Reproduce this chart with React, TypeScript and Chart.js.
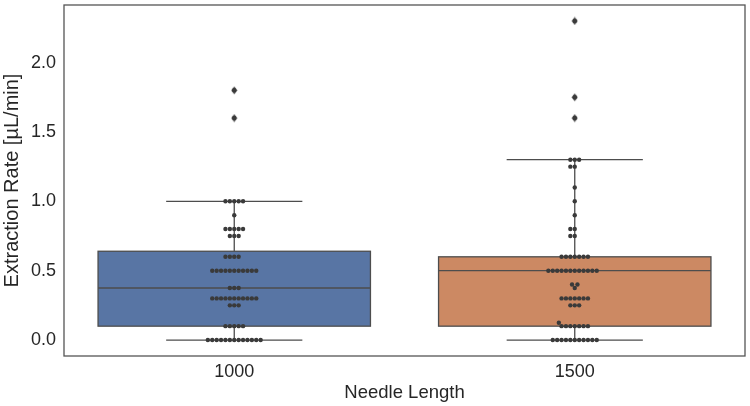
import React, { useEffect, useRef } from "react";
import { Chart, registerables } from "chart.js";

Chart.register(...registerables);

const categories = ["1000", "1500"];
const yTicks = [0, 0.5, 1.0, 1.5, 2.0];

const needle1000 = [
  0, 0, 0, 0, 0, 0, 0, 0, 0, 0, 0, 0, 0,
  0.1, 0.1, 0.1, 0.1, 0.1,
  0.25, 0.25, 0.25,
  0.3, 0.3, 0.3, 0.3, 0.3, 0.3, 0.3, 0.3, 0.3, 0.3, 0.3,
  0.375, 0.375, 0.375,
  0.5, 0.5, 0.5, 0.5, 0.5, 0.5, 0.5, 0.5, 0.5, 0.5, 0.5,
  0.6, 0.6, 0.6, 0.6,
  0.75, 0.75, 0.75,
  0.8, 0.8, 0.8, 0.8, 0.8,
  0.9,
  1.0, 1.0, 1.0, 1.0, 1.0,
  1.6, 1.8,
];

const needle1500 = [
  0, 0, 0, 0, 0, 0, 0, 0, 0, 0, 0,
  0.1, 0.1, 0.1, 0.1, 0.1, 0.1, 0.1,
  0.125,
  0.25, 0.25, 0.25,
  0.3, 0.3, 0.3, 0.3, 0.3, 0.3, 0.3,
  0.375,
  0.4, 0.4,
  0.5, 0.5, 0.5, 0.5, 0.5, 0.5, 0.5, 0.5, 0.5, 0.5, 0.5, 0.5,
  0.6, 0.6, 0.6, 0.6, 0.6, 0.6, 0.6,
  0.75, 0.75,
  0.8, 0.8,
  0.9, 1.0, 1.1,
  1.25, 1.25,
  1.3, 1.3, 1.3,
  1.6, 1.75, 2.3,
];

const boxQ1 = [0.1, 0.1];
const boxMedian = [0.375, 0.5];
const boxQ3 = [0.64, 0.6];
const whiskerLow = [0, 0];
const whiskerHigh = [1.0, 1.3];
const boxColors = ["#5875A4", "#CC8963"];

const LINE = "#4d4d4d";
const DOT = "#3a3a3a";
const TEXT = "#262626";
const FONT = "'Liberation Sans', Arial, sans-serif";

function swarmOffsets(vals: number[], d: number, pxY: number): number[] {
  const order = vals.map((_, i) => i).sort((a, b) => vals[a] - vals[b]);
  const placed: { x: number; y: number }[] = [];
  const out: number[] = new Array(vals.length).fill(0);
  for (const i of order) {
    const y = vals[i] * pxY;
    const nb = placed.filter((p) => Math.abs(p.y - y) < d - 1e-6);
    const cands = [0];
    for (const p of nb) {
      const dx = Math.sqrt(Math.max(0, d * d - (p.y - y) ** 2));
      cands.push(p.x - dx, p.x + dx);
    }
    cands.sort(
      (a, b) => Math.round(Math.abs(a) * 1000) - Math.round(Math.abs(b) * 1000) || a - b
    );
    let chosen = 0;
    for (const c of cands) {
      if (nb.every((p) => Math.hypot(p.x - c, p.y - y) >= d - 1e-6)) {
        chosen = c;
        break;
      }
    }
    placed.push({ x: chosen, y });
    out[i] = chosen;
  }
  return out;
}

export default function App() {
  const ref = useRef<HTMLCanvasElement | null>(null);

  useEffect(() => {
    document.body.style.margin = "0";
    const canvas = ref.current!;
    const groups = [needle1000, needle1500];

    const diamond = document.createElement("canvas");
    diamond.width = 7;
    diamond.height = 9;
    const dctx = diamond.getContext("2d")!;
    dctx.fillStyle = LINE;
    dctx.beginPath();
    dctx.moveTo(3.5, 0.5);
    dctx.lineTo(6.5, 4.5);
    dctx.lineTo(3.5, 8.5);
    dctx.lineTo(0.5, 4.5);
    dctx.closePath();
    dctx.fill();

    const flierData = groups.flatMap((vals, gi) =>
      vals
        .filter((v) => v > whiskerHigh[gi] || v < whiskerLow[gi])
        .map((v) => ({ x: gi, y: v }))
    );
    const swarmData = groups.flatMap((vals, gi) => vals.map((v) => ({ x: gi, y: v })));

    const boxPlugin = {
      id: "boxes",
      beforeDatasetsDraw(chart: any) {
        const ctx = chart.ctx;
        const xs = chart.scales.x;
        const ys = chart.scales.y;
        ctx.save();
        categories.forEach((_, gi) => {
          const xl = xs.getPixelForValue(gi - 0.4);
          const xr = xs.getPixelForValue(gi + 0.4);
          const xc = xs.getPixelForValue(gi);
          const cl = xs.getPixelForValue(gi - 0.2);
          const cr = xs.getPixelForValue(gi + 0.2);
          const yq1 = ys.getPixelForValue(boxQ1[gi]);
          const yq3 = ys.getPixelForValue(boxQ3[gi]);
          const ym = ys.getPixelForValue(boxMedian[gi]);
          const ylo = ys.getPixelForValue(whiskerLow[gi]);
          const yhi = ys.getPixelForValue(whiskerHigh[gi]);
          ctx.lineWidth = 1.3;
          ctx.strokeStyle = LINE;
          ctx.beginPath();
          ctx.moveTo(xc, yq1);
          ctx.lineTo(xc, ylo);
          ctx.moveTo(xc, yq3);
          ctx.lineTo(xc, yhi);
          ctx.moveTo(cl, ylo);
          ctx.lineTo(cr, ylo);
          ctx.moveTo(cl, yhi);
          ctx.lineTo(cr, yhi);
          ctx.stroke();
          ctx.fillStyle = boxColors[gi];
          ctx.fillRect(xl, yq3, xr - xl, yq1 - yq3);
          ctx.strokeRect(xl, yq3, xr - xl, yq1 - yq3);
          ctx.beginPath();
          ctx.moveTo(xl, ym);
          ctx.lineTo(xr, ym);
          ctx.stroke();
        });
        ctx.restore();
      },
      afterDraw(chart: any) {
        const { left, top, right, bottom } = chart.chartArea;
        const ctx = chart.ctx;
        ctx.save();
        ctx.strokeStyle = "#555555";
        ctx.lineWidth = 1.3;
        ctx.strokeRect(left, top, right - left, bottom - top);
        ctx.restore();
      },
    };

    const chart = new Chart(canvas, {
      type: "scatter",
      data: {
        datasets: [
          {
            data: flierData,
            pointStyle: diamond as any,
            pointRadius: 4,
            order: 2,
          },
          {
            data: swarmData,
            pointStyle: "circle",
            pointRadius: 2.2,
            pointBorderWidth: 0,
            backgroundColor: DOT,
            borderColor: DOT,
            order: 1,
          },
        ],
      },
      options: {
        responsive: false,
        animation: false,
        layout: { padding: { top: 1, right: 5, left: 0, bottom: 0 } },
        plugins: { legend: { display: false }, tooltip: { enabled: false } },
        scales: {
          x: {
            type: "linear",
            min: -0.5,
            max: 1.5,
            grid: { display: false, drawTicks: false, tickLength: 0 },
            border: { display: false },
            afterBuildTicks: (s: any) => {
              s.ticks = categories.map((_, i) => ({ value: i }));
            },
            afterFit: (s: any) => {
              s.height = 50;
              s.paddingLeft = 0;
              s.paddingRight = 0;
            },
            ticks: {
              color: TEXT,
              font: { family: FONT, size: 18 },
              padding: 5,
              maxRotation: 0,
              callback: (v: any) => categories[Number(v)] ?? "",
            },
            title: {
              display: true,
              text: "Needle Length",
              color: TEXT,
              font: { family: FONT, size: 18.5 },
              padding: { top: 0, bottom: 2 },
            },
          },
          y: {
            type: "linear",
            min: -0.115,
            max: 2.415,
            grid: { display: false, drawTicks: false, tickLength: 0 },
            border: { display: false },
            afterBuildTicks: (s: any) => {
              s.ticks = yTicks.map((v) => ({ value: v }));
            },
            afterFit: (s: any) => {
              s.width = 64;
              s.paddingTop = 0;
              s.paddingBottom = 0;
            },
            ticks: {
              color: TEXT,
              font: { family: FONT, size: 18 },
              padding: 8,
              callback: (v: any) => Number(v).toFixed(1),
            },
            title: {
              display: true,
              text: "Extraction Rate [µL/min]",
              color: TEXT,
              font: { family: FONT, size: 20 },
              padding: { top: 0, bottom: 0 },
            },
          },
        },
      },
      plugins: [boxPlugin],
    } as any);

    const xs: any = chart.scales.x;
    const ys: any = chart.scales.y;
    const pxX = xs.getPixelForValue(1) - xs.getPixelForValue(0);
    const pxY = ys.getPixelForValue(0) - ys.getPixelForValue(1);
    const d = 4.4;
    const swarmed = groups.flatMap((vals, gi) => {
      const offs = swarmOffsets(vals, d, pxY);
      return vals.map((v, i) => ({ x: gi + offs[i] / pxX, y: v }));
    });
    (chart.data.datasets[1] as any).data = swarmed;
    chart.update("none");

    return () => chart.destroy();
  }, []);

  return (
    <div style={{ position: "absolute", left: 0, top: 0, width: 750, height: 406 }}>
      <canvas ref={ref} width={750} height={406} style={{ display: "block" }} />
    </div>
  );
}
